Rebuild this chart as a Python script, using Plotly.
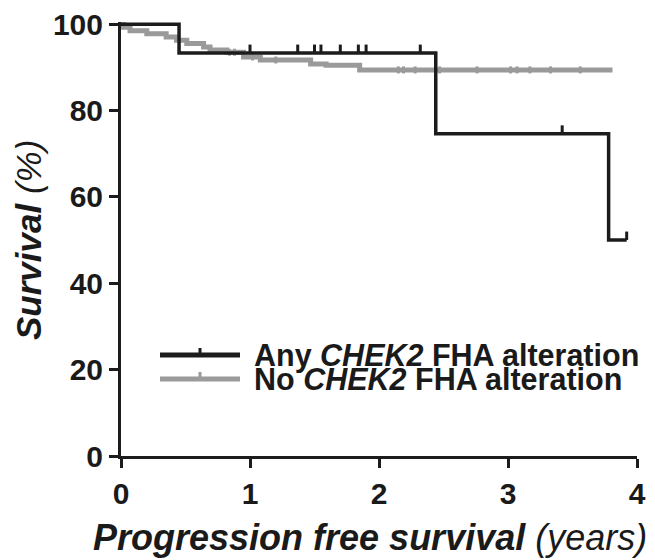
import numpy as np
import plotly.graph_objects as go

# Any CHEK2 FHA alteration (step curve)
any_time = [0, 0.45, 2.44, 3.78, 3.92]
any_surv = [100, 93.3, 74.6, 50.0, 50.0]
any_censor = [1.0, 1.37, 1.50, 1.55, 1.70, 1.84, 1.90, 2.32, 3.42, 3.92]

# No CHEK2 FHA alteration (step curve)
no_time = [0, 0.02, 0.07, 0.20, 0.35, 0.43, 0.51, 0.64, 0.69, 0.82, 0.95, 1.08, 1.47, 1.59, 1.85, 3.81]
no_surv = [100, 99.3, 98.5, 97.8, 97.0, 96.3, 95.5, 94.7, 94.0, 93.5, 92.4, 91.7, 90.8, 90.5, 89.4, 89.4]
no_censor = [0.84, 0.88, 1.02, 1.2, 2.15, 2.19, 2.28, 2.47, 2.76, 3.02, 3.07, 3.17, 3.33, 3.56]

x_ticks = [0, 1, 2, 3, 4]
y_ticks = [0, 20, 40, 60, 80, 100]

BLACK = "#1c1c1c"
GRAY = "#9a9a9a"
TEXT = "#1a1a1a"
FONT = "Liberation Sans"


def step_value(times, surv, t):
    idx = np.searchsorted(np.array(times), t, side="right") - 1
    return [surv[i] for i in idx]


fig = go.Figure()
fig.add_trace(go.Scatter(x=no_time, y=no_surv, mode="lines", line=dict(color=GRAY, width=5, shape="hv"),
                         showlegend=False))
fig.add_trace(go.Scatter(x=no_censor, y=step_value(no_time, no_surv, no_censor), mode="markers",
                         marker=dict(symbol="line-ns", size=5, line=dict(color=GRAY, width=3)),
                         showlegend=False))
fig.add_trace(go.Scatter(x=any_time, y=any_surv, mode="lines", line=dict(color=BLACK, width=3.5, shape="hv"),
                         showlegend=False))
fig.add_trace(go.Scatter(x=any_censor, y=[v + 1.0 for v in step_value(any_time, any_surv, any_censor)],
                         mode="markers",
                         marker=dict(symbol="line-ns", size=6, line=dict(color=BLACK, width=3)),
                         showlegend=False))

# page offset (body margin) compensation: plot area in page pixels 121..637 x 22..456
OFF = 8
PL, PR, PT, PB = 121, 637, 22, 456


def px2x(px):
    return (px - PL) / float(PR - PL)


def py2y(py):
    return (PB - py) / float(PB - PT)


legend_items = [("Any <i>CHEK2</i> FHA alteration", BLACK, 5, 355), ("No <i>CHEK2</i> FHA alteration", GRAY, 5, 379)]
shapes = []
annotations = []
for text, col, w, py in legend_items:
    shapes.append(dict(type="line", xref="paper", yref="paper", x0=px2x(160), x1=px2x(240),
                       y0=py2y(py), y1=py2y(py), line=dict(color=col, width=w)))
    shapes.append(dict(type="line", xref="paper", yref="paper", x0=px2x(200), x1=px2x(200),
                       y0=py2y(py), y1=py2y(py - 7), line=dict(color=col, width=3)))
    annotations.append(dict(xref="paper", yref="paper", x=px2x(252), y=py2y(py), xanchor="left",
                            yanchor="middle", showarrow=False, text="<b>" + text + "</b>",
                            font=dict(family=FONT, size=30.5, color=TEXT)))

# axis titles
annotations.append(dict(xref="paper", yref="paper", x=px2x(370), y=py2y(537), xanchor="center",
                        yanchor="middle", showarrow=False,
                        text="<b><i>Progression free survival</i></b><i> (years)</i>",
                        font=dict(family=FONT, size=36, color=TEXT)))
annotations.append(dict(xref="paper", yref="paper", x=px2x(29), y=py2y(240), xanchor="center",
                        yanchor="middle", showarrow=False, textangle=-90,
                        text="<b><i>Survival</i></b><i> (%)</i>",
                        font=dict(family=FONT, size=35, color=TEXT)))

fig.update_layout(
    width=655 - OFF, height=560 - OFF,
    margin=dict(l=PL - OFF, r=655 - PR, t=PT - OFF, b=560 - PB, autoexpand=False),
    paper_bgcolor="white", plot_bgcolor="white",
    shapes=shapes, annotations=annotations,
    font=dict(family=FONT, color=TEXT),
)
fig.update_xaxes(range=[0, 4], tickvals=x_ticks, ticktext=[str(v) for v in x_ticks],
                 showgrid=False, zeroline=False, showline=True, linecolor=BLACK, linewidth=3,
                 ticks="outside", ticklen=9, tickwidth=3, tickcolor=BLACK, ticklabeloverflow="allow",
                 tickfont=dict(family=FONT, size=30, weight="bold", color=TEXT))
fig.update_yaxes(range=[0, 100.5], tickvals=y_ticks, ticktext=[str(v) for v in y_ticks],
                 showgrid=False, zeroline=False, showline=True, linecolor=BLACK, linewidth=3,
                 ticks="outside", ticklen=9, tickwidth=3, tickcolor=BLACK, ticklabeloverflow="allow",
                 tickfont=dict(family=FONT, size=30, weight="bold", color=TEXT))

fig.write_html("out.html")
